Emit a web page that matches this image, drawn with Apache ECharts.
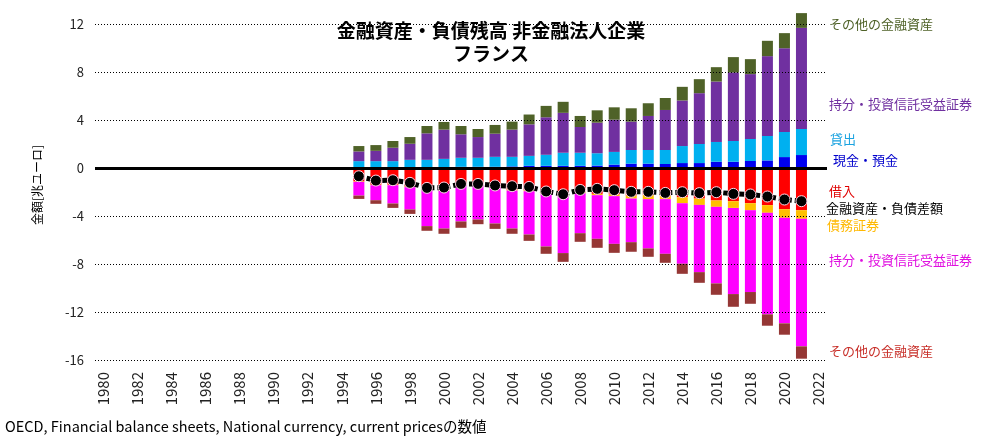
<!DOCTYPE html>
<html><head><meta charset="utf-8">
<script src="https://cdn.jsdelivr.net/npm/echarts@6/dist/echarts.min.js"></script>
<style>html,body{margin:0;padding:0;background:#fff}#c{width:982px;height:447px}</style>
</head><body><div id="c"></div>
<script>
const categories = ['1980','1981','1982','1983','1984','1985','1986','1987','1988','1989','1990','1991','1992','1993','1994','1995','1996','1997','1998','1999','2000','2001','2002','2003','2004','2005','2006','2007','2008','2009','2010','2011','2012','2013','2014','2015','2016','2017','2018','2019','2020','2021','2022'];
const dataStartYear = '1995';
// assets (1995-2021)
const cashDeposits = [0.03,0.03,0.03,0.10,0.10,0.10,0.12,0.12,0.12,0.15,0.20,0.20,0.20,0.20,0.22,0.30,0.38,0.38,0.35,0.43,0.43,0.54,0.54,0.60,0.65,0.93,1.10];
const loansA = [0.56,0.56,0.56,0.60,0.60,0.68,0.75,0.75,0.83,0.80,0.83,0.92,1.09,1.09,1.03,1.06,1.14,1.14,1.17,1.42,1.59,1.65,1.73,1.84,2.04,2.09,2.18];
const equityA = [0.81,0.86,1.12,1.34,2.21,2.44,1.96,1.73,1.93,2.27,2.63,3.13,3.33,2.15,2.55,2.69,2.37,2.84,3.34,3.80,4.24,5.04,5.72,5.41,6.66,6.99,8.43];
const otherA = [0.45,0.48,0.56,0.56,0.61,0.64,0.69,0.67,0.73,0.67,0.82,0.95,0.92,0.92,1.03,1.03,1.11,1.06,1.00,1.14,1.17,1.20,1.28,1.25,1.28,1.26,1.23];
// liabilities (1995-2021)
const borrowingL = [-1.10,-1.38,-1.38,-1.53,-1.58,-1.80,-1.31,-1.26,-1.45,-1.79,-1.84,-2.02,-2.18,-1.98,-2.14,-2.19,-2.28,-2.22,-2.28,-2.42,-2.53,-2.69,-2.75,-2.92,-3.08,-3.42,-3.50];
const debtSecL = [-0.04,-0.04,-0.04,-0.05,-0.06,-0.06,-0.06,-0.06,-0.07,-0.07,-0.08,-0.09,-0.10,-0.10,-0.11,-0.14,-0.25,-0.36,-0.30,-0.50,-0.53,-0.53,-0.56,-0.58,-0.64,-0.72,-0.72];
const equityL = [-1.14,-1.25,-1.52,-1.86,-3.19,-3.17,-3.07,-2.96,-3.09,-3.17,-3.61,-4.42,-4.80,-3.34,-3.64,-3.98,-3.64,-4.11,-4.56,-5.05,-5.61,-6.39,-7.19,-6.83,-8.47,-8.80,-10.64];
const otherL = [-0.28,-0.30,-0.37,-0.37,-0.39,-0.44,-0.53,-0.39,-0.45,-0.44,-0.53,-0.61,-0.73,-0.72,-0.75,-0.75,-0.80,-0.70,-0.75,-0.84,-0.89,-0.95,-1.06,-0.98,-0.95,-0.95,-1.03];
const netPosition = [-0.67,-1.03,-1.00,-1.22,-1.64,-1.61,-1.31,-1.31,-1.44,-1.50,-1.56,-1.94,-2.17,-1.81,-1.72,-1.83,-1.97,-1.97,-2.06,-2.00,-2.08,-2.00,-2.14,-2.19,-2.36,-2.61,-2.75];
const yTicks = [12,8,4,-4,-8,-12,-16];

const off = categories.indexOf(dataStartYear);
function pad(arr){ return categories.map((c,i)=> (i>=off && i-off<arr.length) ? arr[i-off] : null); }

const FONT = '"Noto Sans CJK JP", "Noto Sans", sans-serif';
function bar(name, arr, color){
  return {name, type:'bar', stack:'s', data:pad(arr), barWidth:11, itemStyle:{color}, emphasis:{disabled:true}};
}
const series = [
  bar('現金・預金', cashDeposits, '#0000F0'),
  bar('貸出', loansA, '#00B0F0'),
  bar('持分・投資信託受益証券', equityA, '#7030A0'),
  bar('その他の金融資産', otherA, '#4F6228'),
  bar('借入', borrowingL, '#FF0000'),
  bar('債務証券', debtSecL, '#FFC000'),
  bar('持分・投資信託受益証券L', equityL, '#FF00FF'),
  bar('その他の金融資産L', otherL, '#953735'),
  {name:'金融資産・負債差額', type:'line', data:pad(netPosition), z:5,
   symbol:'circle', symbolSize:11,
   lineStyle:{color:'#000', width:5, type:[5,3], cap:'butt'},
   itemStyle:{color:'#000', borderColor:'#ffd6e6', borderWidth:1},
   markLine:{silent:true, symbol:'none', label:{show:false},
     lineStyle:{color:'#000', width:1, type:[1,2]},
     data: yTicks.map(v=>({yAxis:v}))}
  },
  {name:'zero', type:'line', data:[], markLine:{silent:true, symbol:'none', label:{show:false}, z:4,
     lineStyle:{color:'#000', width:3, type:'solid'}, data:[{yAxis:0}]}}
];

const labels = [
  ['その他の金融資産', 829, 24, '#4F6228'],
  ['持分・投資信託受益証券', 829, 104, '#7030A0'],
  ['貸出', 830, 139, '#1BA3E0'],
  ['現金・預金', 833, 160, '#0000CC'],
  ['借入', 829, 191, '#E00000'],
  ['金融資産・負債差額', 826, 208, '#000000'],
  ['債務証券', 827, 225, '#FFB800'],
  ['持分・投資信託受益証券', 829, 260, '#E010E0'],
  ['その他の金融資産', 829, 351, '#C8302A']
];

const chart = echarts.init(document.getElementById('c'), null, {renderer:'canvas'});
chart.setOption({
  animation:false,
  backgroundColor:'#fff',
  title:{text:'金融資産・負債残高 非金融法人企業\nフランス', left:'center', top:14,
    textStyle:{fontFamily:FONT, fontSize:19, fontWeight:'bold', color:'#000', lineHeight:23}},
  grid:{left:95, right:155, top:10, height:350},
  xAxis:{type:'category', data:categories, boundaryGap:true,
    axisLine:{show:false}, axisTick:{show:false},
    axisLabel:{interval:1, rotate:90, margin:12, fontFamily:FONT, fontSize:15, color:'#222'}},
  yAxis:{type:'value', min:-16, max:13.2, interval:4,
    name:'金額[兆ユーロ]', nameLocation:'middle', nameRotate:90, nameGap:52,
    nameTextStyle:{fontFamily:FONT, fontSize:12, color:'#000'},
    axisLine:{show:false}, axisTick:{show:false}, splitLine:{show:false},
    axisLabel:{margin:11, fontFamily:FONT, fontSize:13, color:'#222',
      formatter:v=> (Math.abs(v%4)<1e-9 ? String(v) : '')}},
  graphic: labels.map(l=>({type:'text', x:l[1], y:l[2],
    style:{text:l[0], fill:l[3], font:'13px '+FONT, verticalAlign:'middle', textVerticalAlign:'middle'}})).concat([
    {type:'text', x:5, y:426, style:{text:'OECD, Financial balance sheets, National currency, current pricesの数値', fill:'#000', font:'14.5px '+FONT, verticalAlign:'middle', textVerticalAlign:'middle'}}
  ]),
  series
});
</script></body></html>
